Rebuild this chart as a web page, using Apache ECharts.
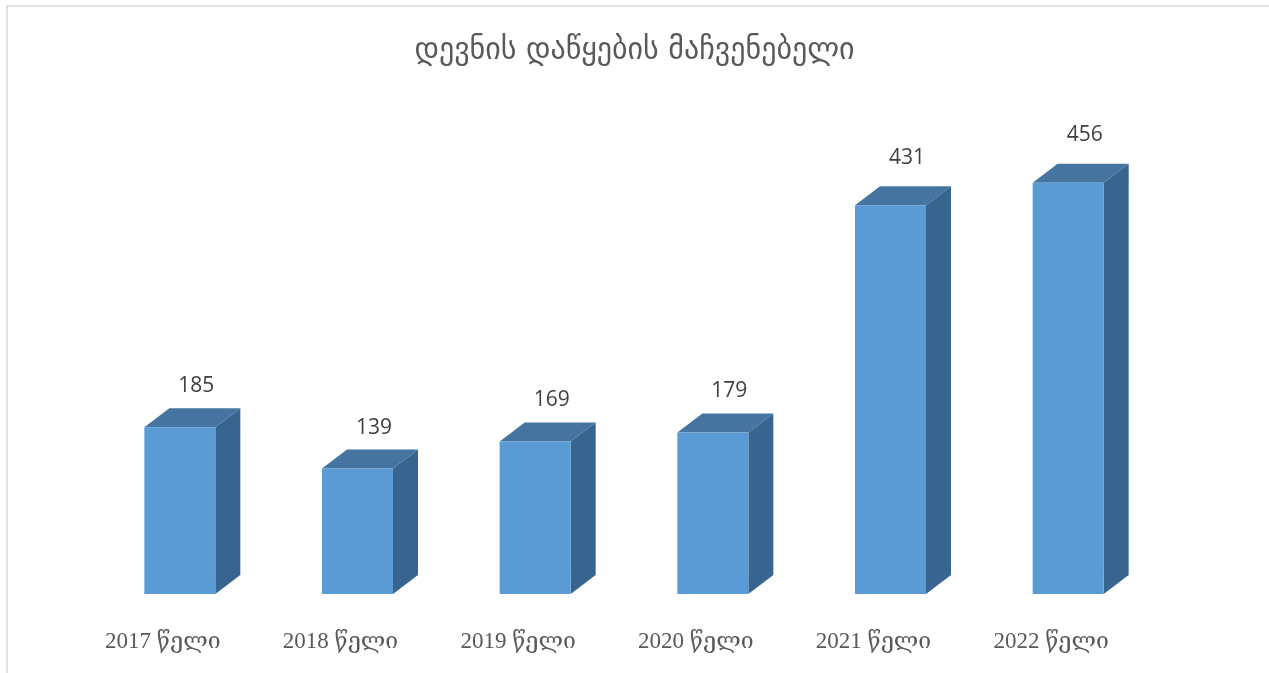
<!DOCTYPE html>
<html><head><meta charset="utf-8">
<script src="https://cdn.jsdelivr.net/npm/echarts@6/dist/echarts.min.js"></script>
<style>html,body{margin:0;padding:0;background:#fff}#c{width:1269px;height:673px}</style>
</head><body><div id="c"></div>
<script>
const titleText = 'დევნის დაწყების მაჩვენებელი';
const categories = ['2017 წელი','2018 წელი','2019 წელი','2020 წელი','2021 წელი','2022 წელი'];
const values = [185,139,169,179,431,456];

const chart = echarts.init(document.getElementById('c'));
const OFF = 17, HW = 35.5, DX = 25, DY = 19;
chart.setOption({
  backgroundColor: '#fff',
  title: { text: titleText, left: 'center', top: 31,
    textStyle: { fontFamily: 'DejaVu Sans', fontWeight: 'normal', fontSize: 30, color: '#595959' } },
  grid: { left: 74, right: 129, top: 143, bottom: 79 },
  xAxis: { type: 'category', data: categories,
    axisLine: { show: false }, axisTick: { show: false },
    axisLabel: { margin: 36, fontFamily: 'Liberation Serif, DejaVu Serif', fontSize: 23, color: '#595959' } },
  yAxis: { type: 'value', min: 0, max: 500, show: false, splitLine: { show: false } },
  graphic: [{ type: 'rect', shape: { x: 7, y: 6, width: 1300, height: 700 }, style: { fill: 'none', stroke: '#d9d9d9', lineWidth: 1.5 }, silent: true }],
  series: [{
    type: 'custom',
    data: values.map((v, i) => [i, v]),
    renderItem: function (params, api) {
      const top = api.coord([api.value(0), api.value(1)]);
      const base = api.coord([api.value(0), 0]);
      const cx = top[0] + OFF;
      const x0 = cx - HW, x1 = cx + HW, y0 = top[1], yb = base[1];
      const ly = y0 - DY - 18 - (yb - y0) * 0.027;
      return { type: 'group', children: [
        { type: 'polygon', shape: { points: [[x1, y0], [x1 + DX, y0 - DY], [x1 + DX, yb - DY], [x1, yb]] }, style: { fill: '#386590' } },
        { type: 'polygon', shape: { points: [[x0, y0], [x0 + DX, y0 - DY], [x1 + DX, y0 - DY], [x1, y0]] }, style: { fill: '#44749f' } },
        { type: 'rect', shape: { x: x0, y: y0, width: x1 - x0, height: yb - y0 }, style: { fill: '#5b9bd5' } },
        { type: 'text', style: { text: String(api.value(1)), x: cx + DX / 2 + 4, y: ly, align: 'center', verticalAlign: 'middle',
            font: '21px "Open Sans", "Liberation Sans", sans-serif', fill: '#404040' } }
      ]};
    }
  }]
});
</script></body></html>
